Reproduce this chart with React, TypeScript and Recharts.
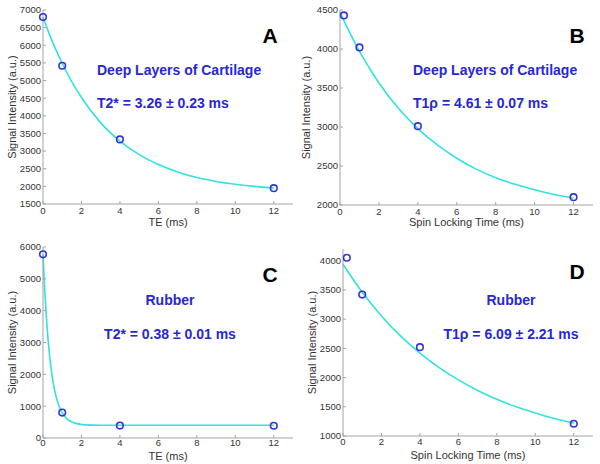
import { ComposedChart, Line, Scatter, XAxis, YAxis } from "recharts";

// measured echo times / spin locking times and signals
const teTimes = [0, 1, 4, 12];
const tslTimes = [0.2, 1, 4, 12];
const cartT2Signal = [6800, 5420, 3330, 1950];
const cartT1rSignal = [4430, 4020, 3010, 2100];
const rubT2Signal = [5770, 800, 390, 385];
const rubT1rSignal = [4050, 3420, 2520, 1210];

// fitted curves
const fitTimesA = [0, 0.25, 0.5, 1, 1.5, 2, 3, 4, 5, 6, 7, 8, 9, 10, 11, 12];
const fitA = [6800, 6430, 6090, 5490, 4960, 4520, 3800, 3280, 2900, 2620, 2410, 2250, 2140, 2060, 2000, 1950];
const fitTimesB = [0, 0.5, 1, 1.5, 2, 3, 4, 5, 6, 7, 8, 9, 10, 11, 12];
const fitB = [4470, 4210, 3970, 3760, 3565, 3240, 2980, 2770, 2600, 2460, 2350, 2265, 2195, 2135, 2090];
const fitTimesC = [0, 0.1, 0.2, 0.3, 0.4, 0.5, 0.6, 0.8, 1, 1.25, 1.5, 2, 2.5, 3, 4, 6, 8, 10, 12];
const fitC = [5770, 4540, 3580, 2850, 2280, 1840, 1510, 1050, 790, 600, 500, 425, 405, 400, 400, 400, 400, 400, 400];
const fitTimesD = [0, 1, 2, 3, 4, 5, 6, 7, 8, 9, 10, 11, 12];
const fitD = [3940, 3460, 3055, 2710, 2420, 2170, 1960, 1780, 1630, 1500, 1395, 1300, 1220];

const xTicks = [0, 2, 4, 6, 8, 10, 12];
const ticksA = [1500, 2000, 2500, 3000, 3500, 4000, 4500, 5000, 5500, 6000, 6500, 7000];
const ticksB = [2000, 2500, 3000, 3500, 4000, 4500];
const ticksC = [0, 1000, 2000, 3000, 4000, 5000, 6000];
const ticksD = [1000, 1500, 2000, 2500, 3000, 3500, 4000];

const FONT = "Arial, 'Liberation Sans', sans-serif";
const BOX = "#a3a3a3";
const CYAN = "#30e2e2";
const DOT = "#3434d4";
const TEXTBLUE = "#2727d6";

const zip = (ts: number[], ss: number[]) => ts.map((t, i) => ({ t, s: ss[i] }));

const OpenCircle = (props: any) => (
  <circle cx={props.cx} cy={props.cy} r={3.3} fill="none" stroke={DOT} strokeWidth={1.6} />
);

type PanelProps = {
  left: number;
  top: number;
  margin: { top: number; right: number; bottom: number; left: number };
  yWidth: number;
  xHeight: number;
  xTickGap: number;
  xLabelOffset: number;
  yDomain: number[];
  yTicks: number[];
  xLabel: string;
  pts: { t: number; s: number }[];
  fit: { t: number; s: number }[];
  yLabelX: number;
};

function Panel(p: PanelProps) {
  const tick = { fill: "#333", fontSize: 9.5, fontFamily: FONT };
  return (
    <div style={{ position: "absolute", left: p.left, top: p.top }}>
      <ComposedChart width={300} height={232} margin={p.margin}>
        <XAxis
          xAxisId="b"
          type="number"
          dataKey="t"
          domain={[0, 13]}
          ticks={xTicks}
          height={p.xHeight}
          tickSize={-3}
          tickMargin={p.xTickGap}
          axisLine={{ stroke: BOX }}
          tickLine={{ stroke: BOX }}
          tick={tick}
          label={{ value: p.xLabel, position: "insideBottom", offset: p.xLabelOffset, fill: "#333", fontSize: 11, fontFamily: FONT }}
        />
        <XAxis
          xAxisId="t"
          orientation="top"
          type="number"
          domain={[0, 13]}
          ticks={xTicks}
          height={0}
          tickSize={-3}
          tick={false}
          axisLine={{ stroke: BOX }}
          tickLine={{ stroke: BOX }}
        />
        <YAxis
          yAxisId="l"
          type="number"
          domain={p.yDomain}
          ticks={p.yTicks}
          width={p.yWidth}
          tickSize={-3}
          tickMargin={5}
          interval={0}
          axisLine={{ stroke: BOX }}
          tickLine={{ stroke: BOX }}
          tick={tick}
          label={{
            value: "Signal Intensity (a.u.)",
            angle: -90,
            position: "insideLeft",
            offset: p.yLabelX,
            style: { textAnchor: "middle" },
            fill: "#333",
            fontSize: 11,
            fontFamily: FONT,
          }}
        />
        <YAxis
          yAxisId="r"
          orientation="right"
          type="number"
          domain={p.yDomain}
          ticks={p.yTicks}
          width={0}
          tickSize={-3}
          tick={false}
          axisLine={{ stroke: BOX }}
          tickLine={{ stroke: BOX }}
        />
        <Line
          xAxisId="b"
          yAxisId="l"
          data={p.fit}
          dataKey="s"
          type="monotone"
          stroke={CYAN}
          strokeWidth={1.6}
          dot={false}
          isAnimationActive={false}
        />
        <Scatter
          xAxisId="b"
          yAxisId="l"
          data={p.pts}
          dataKey="s"
          shape={OpenCircle}
          isAnimationActive={false}
        />
      </ComposedChart>
    </div>
  );
}

export default function App() {
  const blue = { fill: TEXTBLUE, fontSize: 14, fontWeight: 700, fontFamily: FONT } as const;
  const big = { fill: "#000", fontSize: 21, fontWeight: 700, fontFamily: FONT } as const;
  return (
    <div style={{ position: "absolute", left: 0, top: 0, width: 600, height: 464, background: "#fff" }}>
      <Panel
        left={0}
        top={0}
        margin={{ top: 10, right: 7, bottom: 0, left: 0 }}
        yWidth={43}
        xHeight={28}
        xTickGap={6}
        xLabelOffset={6}
        yDomain={[1500, 7000]}
        yTicks={ticksA}
        xLabel="TE (ms)"
        pts={zip(teTimes, cartT2Signal)}
        fit={zip(fitTimesA, fitA)}
        yLabelX={12}
      />
      <Panel
        left={300}
        top={0}
        margin={{ top: 10, right: 7, bottom: 0, left: 0 }}
        yWidth={40}
        xHeight={27}
        xTickGap={6}
        xLabelOffset={6}
        yDomain={[2000, 4500]}
        yTicks={ticksB}
        xLabel="Spin Locking Time (ms)"
        pts={zip(tslTimes, cartT1rSignal)}
        fit={zip(fitTimesB, fitB)}
        yLabelX={6}
      />
      <Panel
        left={0}
        top={232}
        margin={{ top: 15, right: 7, bottom: 0, left: 0 }}
        yWidth={43}
        xHeight={26}
        xTickGap={4}
        xLabelOffset={4}
        yDomain={[0, 6000]}
        yTicks={ticksC}
        xLabel="TE (ms)"
        pts={zip(teTimes, rubT2Signal)}
        fit={zip(fitTimesC, fitC)}
        yLabelX={12}
      />
      <Panel
        left={300}
        top={232}
        margin={{ top: 17, right: 7, bottom: 0, left: 0 }}
        yWidth={43}
        xHeight={28}
        xTickGap={5}
        xLabelOffset={5}
        yDomain={[1000, 4200]}
        yTicks={ticksD}
        xLabel="Spin Locking Time (ms)"
        pts={zip(tslTimes, rubT1rSignal)}
        fit={zip(fitTimesD, fitD)}
        yLabelX={12}
      />
      <svg width={600} height={464} style={{ position: "absolute", left: 0, top: 0, pointerEvents: "none" }}>
        <text x={97} y={70} dominantBaseline="central" {...blue}>Deep Layers of Cartilage</text>
        <text x={97} y={103} dominantBaseline="central" {...blue}>T2* = 3.26 ± 0.23 ms</text>
        <text x={413} y={70} dominantBaseline="central" {...blue}>Deep Layers of Cartilage</text>
        <text x={413} y={103} dominantBaseline="central" {...blue}>T1ρ = 4.61 ± 0.07 ms</text>
        <text x={170} y={300} dominantBaseline="central" textAnchor="middle" {...blue}>Rubber</text>
        <text x={170} y={334} dominantBaseline="central" textAnchor="middle" {...blue}>T2* = 0.38 ± 0.01 ms</text>
        <text x={511} y={300} dominantBaseline="central" textAnchor="middle" {...blue}>Rubber</text>
        <text x={511} y={334} dominantBaseline="central" textAnchor="middle" {...blue}>T1ρ = 6.09 ± 2.21 ms</text>
        <text x={270} y={35} dominantBaseline="central" textAnchor="middle" {...big}>A</text>
        <text x={577} y={35} dominantBaseline="central" textAnchor="middle" {...big}>B</text>
        <text x={270} y={274} dominantBaseline="central" textAnchor="middle" {...big}>C</text>
        <text x={577} y={271} dominantBaseline="central" textAnchor="middle" {...big}>D</text>
      </svg>
    </div>
  );
}
